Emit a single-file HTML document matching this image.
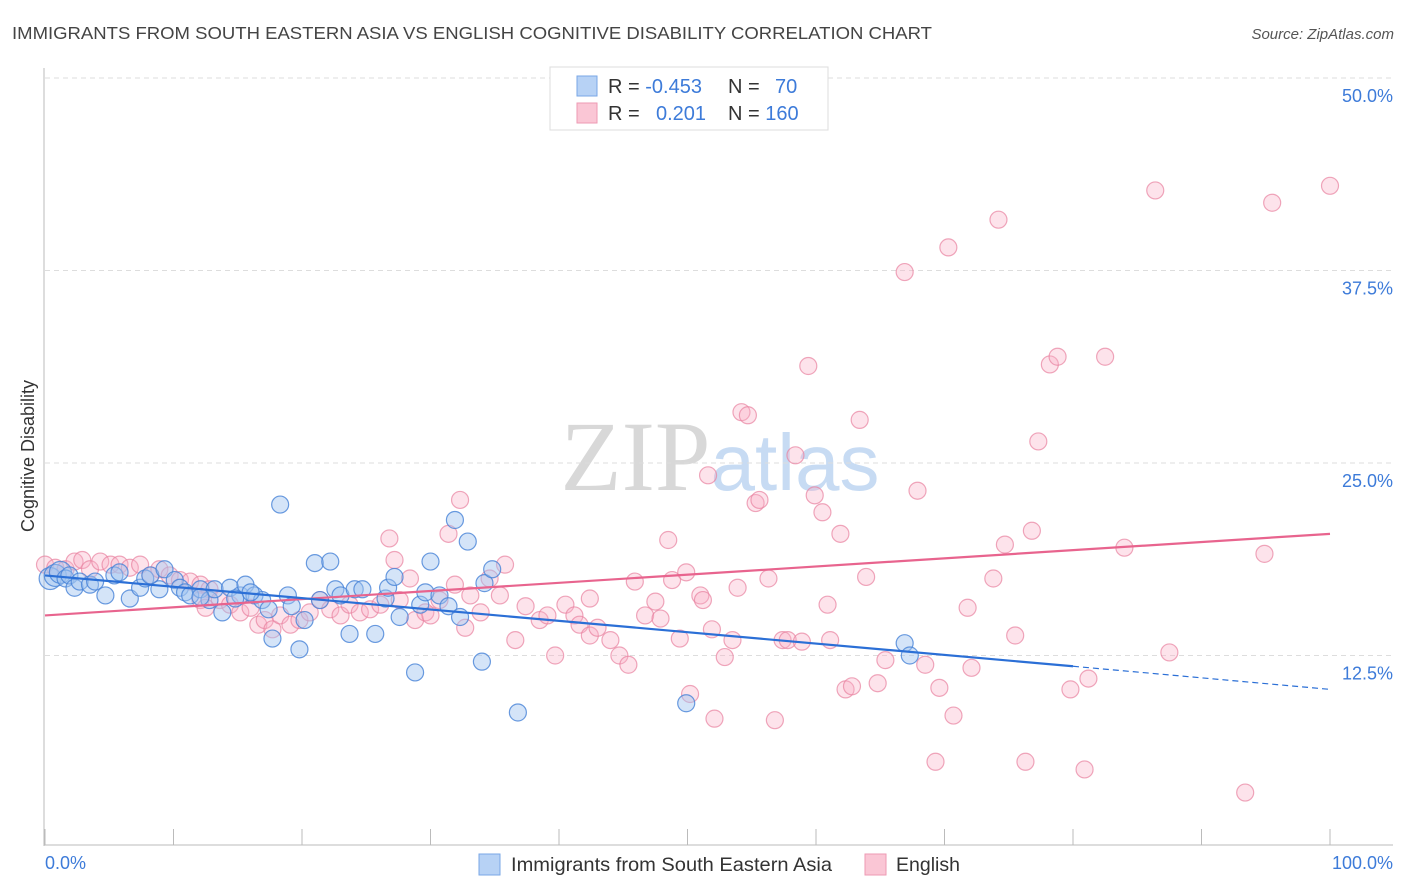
<!DOCTYPE html>
<html><head><meta charset="utf-8"><style>
body{margin:0;background:#fff;font-family:"Liberation Sans",sans-serif;}
#wrap{position:relative;width:1406px;height:892px;overflow:hidden;}
</style></head><body>
<div id="wrap">
<svg id="chart" width="1406" height="892"></svg>
</div>
<script>
const ticksY=[12.5,25,37.5,50];
const tickLabelsY=["12.5%","25.0%","37.5%","50.0%"];
const blueX=[0.4,0.8,1.2,1.6,1.9,2.3,2.7,3.5,3.9,4.7,5.4,5.8,6.6,7.4,7.8,8.2,8.9,9.3,10.1,10.5,10.9,11.3,12.1,12.8,13.2,13.8,14.4,15.2,15.6,16.3,16.9,17.4,17.7,18.3,18.9,19.2,19.8,20.2,21.0,21.4,22.2,22.6,23.0,23.7,24.1,24.7,25.7,26.5,26.7,27.2,27.6,28.8,29.2,29.6,30.0,30.7,31.4,31.9,32.3,32.9,34.0,34.2,34.8,36.8,49.9,66.9,67.3,16.0,14.8,12.1];
const blueY=[17.5,17.7,17.9,17.5,17.7,16.9,17.3,17.1,17.3,16.4,17.7,17.9,16.2,16.9,17.5,17.7,16.8,18.1,17.4,16.9,16.6,16.4,16.8,16.1,16.8,15.3,16.9,16.4,17.1,16.4,16.1,15.5,13.6,22.3,16.4,15.7,12.9,14.8,18.5,16.1,18.6,16.8,16.4,13.9,16.8,16.8,13.9,16.2,16.9,17.6,15.0,11.4,15.8,16.6,18.6,16.4,15.7,21.3,15.0,19.9,12.1,17.2,18.1,8.8,9.4,13.3,12.5,16.6,16.2,16.3];
const pinkX=[0,0.8,1.6,2.3,2.9,3.5,4.3,5.1,5.8,6.6,7.4,8.2,8.9,9.7,10.5,11.3,12.1,12.8,13.6,14.4,15.2,16.0,16.6,17.1,17.7,18.3,19.1,19.8,20.6,21.4,22.2,23.0,23.7,24.5,25.3,26.1,26.8,27.2,27.6,28.4,28.8,29.6,30.0,30.7,31.4,31.9,32.3,32.7,33.1,33.9,34.6,35.4,35.8,36.6,37.4,38.5,39.1,39.7,40.5,41.2,41.6,42.4,43.0,44.0,44.7,45.4,45.9,46.7,47.5,47.9,48.5,48.8,49.4,49.9,50.2,51.0,51.2,51.6,51.9,52.1,52.9,53.5,53.9,54.2,54.7,55.3,55.6,56.3,56.8,57.4,57.8,58.4,58.9,59.4,59.9,60.5,60.9,61.1,61.9,62.3,62.8,63.4,63.9,64.8,65.4,66.9,67.9,68.5,69.3,69.6,70.3,70.7,71.8,72.1,73.8,74.2,74.7,75.5,76.3,76.8,77.3,78.2,78.8,79.8,80.9,81.2,82.5,84.0,86.4,87.5,93.4,94.9,95.5,100,12.1,12.5,42.4];
const pinkY=[18.4,18.2,18.1,18.6,18.7,18.1,18.6,18.4,18.4,18.2,18.4,17.7,18.1,17.7,17.4,17.3,17.1,16.8,16.1,15.8,15.3,15.6,14.5,14.8,14.2,15.1,14.5,14.8,15.3,16.1,15.5,15.1,15.8,15.3,15.5,15.8,20.1,18.7,16.1,17.5,14.8,15.3,15.1,16.1,20.4,17.1,22.6,14.3,16.4,15.3,17.5,16.4,18.4,13.5,15.7,14.8,15.1,12.5,15.8,15.1,14.5,13.8,14.3,13.5,12.5,11.9,17.3,15.1,16.0,14.9,20.0,17.4,13.6,17.9,10.0,16.4,16.1,24.2,14.2,8.4,12.4,13.5,16.9,28.3,28.1,22.4,22.6,17.5,8.3,13.5,13.5,25.5,13.4,31.3,22.9,21.8,15.8,13.5,20.4,10.3,10.5,27.8,17.6,10.7,12.2,37.4,23.2,11.9,5.6,10.4,39.0,8.6,15.6,11.7,17.5,40.8,19.7,13.8,5.6,20.6,26.4,31.4,31.9,10.3,5.1,11.0,31.9,19.5,42.7,12.7,3.6,19.1,41.9,43.0,16.1,15.6,16.2];
const blueTrend=[17.7,11.8,10.3]; // at x=0, 80, 100
const pinkTrend=[15.1,20.4];      // at x=0, 100

const NS="http://www.w3.org/2000/svg";
const svg=document.getElementById('chart');
const X0=45,X1=1330,Y0=848,PY=15.4;
const sx=v=>X0+v*(X1-X0)/100;
const sy=v=>Y0-v*PY;
function mk(tag,attrs,parent){const e=document.createElementNS(NS,tag);for(const k in attrs)e.setAttribute(k,attrs[k]);(parent||svg).appendChild(e);return e;}

let t=mk('text',{x:12,y:39,'font-size':17.5,fill:'#444',textLength:920,lengthAdjust:'spacingAndGlyphs'});t.textContent='IMMIGRANTS FROM SOUTH EASTERN ASIA VS ENGLISH COGNITIVE DISABILITY CORRELATION CHART';


t=mk('text',{x:1394,y:39,'font-size':15,fill:'#555','font-style':'italic','text-anchor':'end'});t.textContent='Source: ZipAtlas.com';



t=mk('text',{x:720,y:490,'font-size':100,'text-anchor':'middle','font-family':'Liberation Serif, serif'});
t.innerHTML='<tspan fill="#d8d8d8">ZIP</tspan><tspan fill="#c7dbf3" font-family="Liberation Sans, sans-serif" font-size="80">atlas</tspan>';



ticksY.forEach((v,i)=>{
 const g=mk('line',{x1:45,x2:1393,y1:sy(v),y2:sy(v),stroke:'#ddd','stroke-dasharray':'5,4'});
 
 
 const l=mk('text',{x:1393,y:sy(v)+24,'font-size':18,fill:'#3d7bd9','text-anchor':'end'});l.textContent=tickLabelsY[i];
 
 
});
let a=mk('line',{x1:44,x2:44,y1:68,y2:846,stroke:'#bbb'});


a=mk('line',{x1:44,x2:1393,y1:845,y2:845,stroke:'#bbb'});


for(let i=0;i<=10;i++){const tk=mk('line',{x1:sx(i*10),x2:sx(i*10),y1:829,y2:845,stroke:'#bbb'});
 
 }
t=mk('text',{x:45,y:869,'font-size':18,fill:'#3d7bd9'});t.textContent='0.0%';


t=mk('text',{x:1393,y:869,'font-size':18,fill:'#3d7bd9','text-anchor':'end'});t.textContent='100.0%';


t=mk('text',{x:34,y:456,'font-size':18,fill:'#333','text-anchor':'middle',transform:'rotate(-90 34 456)'});t.textContent='Cognitive Disability';



pinkX.forEach((x,i)=>{const c=mk('circle',{cx:sx(x),cy:sy(pinkY[i]),r:8.5,fill:'rgba(248,175,198,0.35)',stroke:'rgba(232,130,160,0.7)','stroke-width':1.2});
 
 });
blueX.forEach((x,i)=>{const c=mk('circle',{cx:sx(x),cy:sy(blueY[i]),r:i<3?11:8.5,fill:'rgba(160,196,240,0.45)',stroke:'rgba(70,130,215,0.8)','stroke-width':1.2});
 
 });

let tl=mk('line',{x1:sx(0),y1:sy(pinkTrend[0]),x2:sx(100),y2:sy(pinkTrend[1]),stroke:'#e8648e','stroke-width':2.2});


tl=mk('line',{x1:sx(0),y1:sy(blueTrend[0]),x2:sx(80),y2:sy(blueTrend[1]),stroke:'#2b6fd6','stroke-width':2.2});


tl=mk('line',{x1:sx(80),y1:sy(blueTrend[1]),x2:sx(100),y2:sy(blueTrend[2]),stroke:'#2b6fd6','stroke-width':1.2,'stroke-dasharray':'6,4'});



let lg=mk('g',{});


mk('rect',{x:550,y:67,width:278,height:63,fill:'#fff',stroke:'#ddd'},lg);
mk('rect',{x:577,y:76,width:20,height:20,fill:'#b7d2f5',stroke:'#7aa7e6'},lg);
mk('rect',{x:577,y:103,width:20,height:20,fill:'#fac6d5',stroke:'#ee9ab3'},lg);
t=mk('text',{x:608,y:93,'font-size':20,fill:'#333'},lg);t.innerHTML='R = <tspan fill="#3d7bd9">-0.453</tspan>';
t=mk('text',{x:728,y:93,'font-size':20,fill:'#333'},lg);t.innerHTML='N = <tspan fill="#3d7bd9" x="775">70</tspan>';
t=mk('text',{x:608,y:120,'font-size':20,fill:'#333'},lg);t.innerHTML='R = <tspan fill="#3d7bd9" x="656">0.201</tspan>';
t=mk('text',{x:728,y:120,'font-size':20,fill:'#333'},lg);t.innerHTML='N = <tspan fill="#3d7bd9">160</tspan>';

let bl=mk('g',{});


mk('rect',{x:479,y:854,width:21,height:21,fill:'#b7d2f5',stroke:'#7aa7e6'},bl);
t=mk('text',{x:511,y:871,'font-size':19.5,fill:'#333',textLength:321,lengthAdjust:'spacingAndGlyphs'},bl);t.textContent='Immigrants from South Eastern Asia';


mk('rect',{x:865,y:854,width:21,height:21,fill:'#fac6d5',stroke:'#ee9ab3'},bl);
t=mk('text',{x:896,y:871,'font-size':19.5,fill:'#333'},bl);t.textContent='English';


</script>
</body></html>
